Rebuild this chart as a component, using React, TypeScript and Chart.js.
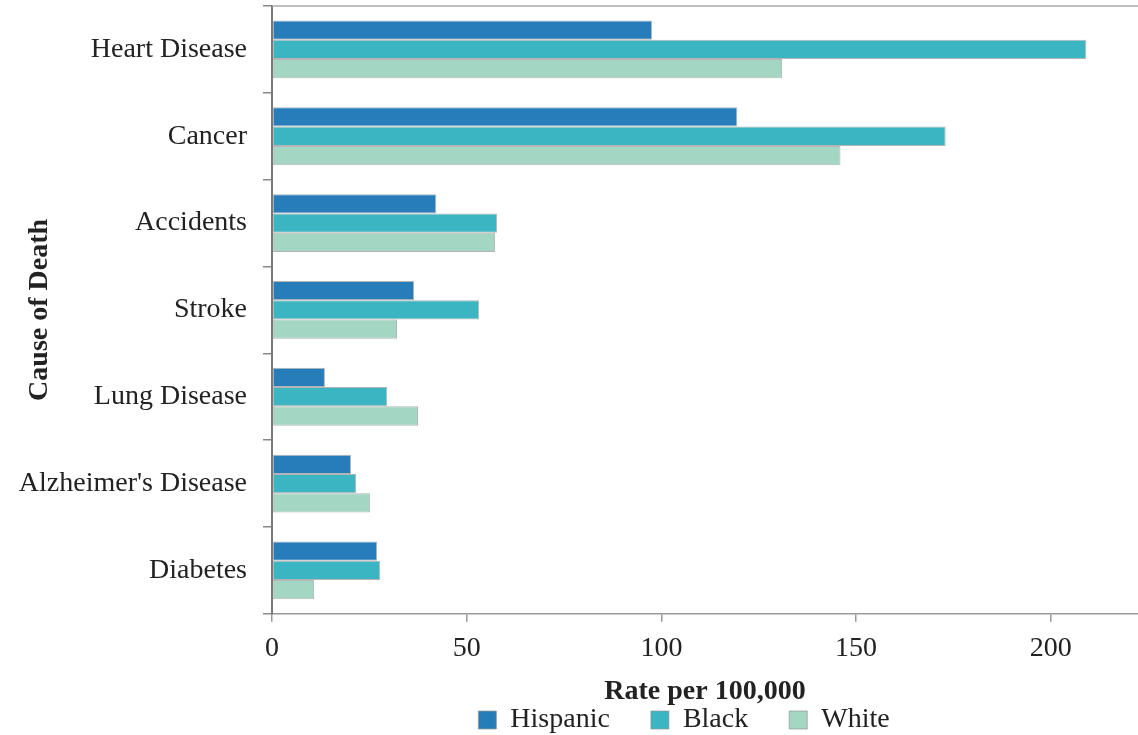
import React, { useEffect, useRef } from "react";
import { Chart, registerables } from "chart.js";

Chart.register(...registerables);

const categories = [
  "Heart Disease",
  "Cancer",
  "Accidents",
  "Stroke",
  "Lung Disease",
  "Alzheimer's Disease",
  "Diabetes",
];
const seriesNames = ["Hispanic", "Black", "White"];
const hispanic = [97.6, 119.5, 42.2, 36.5, 13.6, 20.3, 27.0];
const black = [209.1, 173.0, 57.8, 53.2, 29.6, 21.6, 27.8];
const white = [131.0, 146.0, 57.3, 32.1, 37.5, 25.2, 10.8];
const xMin = 0;
const xMax = 222.4;
const xStep = 50;

const SERIF = "'Liberation Serif', 'Times New Roman', serif";
const colors = ["#277db9", "#3cb5c2", "#a3d6c3"];

const topBorderPlugin = {
  id: "topBorder",
  afterDraw(chart: any) {
    const { ctx, chartArea } = chart;
    ctx.save();
    ctx.strokeStyle = "#a8a8a8";
    ctx.lineWidth = 1.5;
    ctx.beginPath();
    ctx.moveTo(chartArea.left, chartArea.top);
    ctx.lineTo(chartArea.right, chartArea.top);
    ctx.stroke();
    ctx.restore();
  },
};

const legendShiftPlugin = {
  id: "legendShift",
  afterLayout(chart: any) {
    const lg = chart.legend;
    if (!lg) return;
    const area = chart.chartArea;
    const center = (area.left + area.right) / 2 - 21;
    const half = (lg.right - lg.left) / 2;
    lg.left = center - half;
    lg.right = center + half;
    const pad = lg.options.labels.padding;
    const fs = lg.options.labels.font.size;
    lg.top = chart.height - 15 - fs / 2 - pad;
    lg.bottom = chart.height;
  },
};

export default function App() {
  const ref = useRef<HTMLCanvasElement | null>(null);

  useEffect(() => {
    if (!ref.current) return;
    const data = [hispanic, black, white];
    const chart = new Chart(ref.current, {
      type: "bar",
      data: {
        labels: categories,
        datasets: seriesNames.map((name, i) => ({
          label: name,
          data: data[i],
          backgroundColor: colors[i],
          borderColor: "rgba(150,150,150,0.7)",
          borderWidth: 1,
          borderSkipped: false,
          categoryPercentage: 0.666,
          barPercentage: 1.0,
        })),
      },
      plugins: [topBorderPlugin, legendShiftPlugin],
      options: {
        indexAxis: "y",
        responsive: false,
        animation: false,
        devicePixelRatio: 1,
        layout: { padding: { top: 6, right: 0, left: 0, bottom: 0 } },
        plugins: {
          tooltip: { enabled: false },
          legend: {
            display: true,
            position: "bottom",
            maxHeight: 26,
            labels: {
              boxWidth: 18,
              boxHeight: 18,
              padding: 41,
              color: "#222",
              font: { family: SERIF, size: 28 },
            },
          },
        },
        scales: {
          x: {
            type: "linear",
            min: xMin,
            max: xMax,
            ticks: {
              stepSize: xStep,
              includeBounds: false,
              color: "#222",
              padding: 10,
              font: { family: SERIF, size: 28 },
            },
            grid: {
              display: true,
              drawOnChartArea: false,
              drawTicks: true,
              tickLength: 8,
              color: "#999",
              lineWidth: 1.5,
            },
            border: { display: true, color: "#999", width: 1.5 },
            title: {
              display: true,
              text: "Rate per 100,000",
              color: "#222",
              font: { family: SERIF, size: 28, weight: "bold" },
              padding: { top: 0, bottom: 0 },
            },
          },
          y: {
            type: "category",
            ticks: {
              color: "#222",
              padding: 16,
              font: { family: SERIF, size: 28 },
            },
            grid: {
              display: true,
              drawOnChartArea: false,
              offset: true,
              drawTicks: true,
              tickLength: 9,
              color: "#888",
              lineWidth: 1.5,
            },
            border: { display: true, color: "#7a7a7a", width: 2 },
            title: {
              display: true,
              text: "Cause of Death",
              color: "#222",
              font: { family: SERIF, size: 28, weight: "bold" },
              padding: { top: 23, bottom: 0 },
            },
            afterFit(scale: any) {
              scale.width = 272;
              scale.paddingTop = 0;
              scale.paddingBottom = 0;
            },
          },
        },
      },
    });
    return () => chart.destroy();
  }, []);

  return (
    <div style={{ position: "absolute", left: 0, top: 0, width: 1138, height: 735, background: "#fff" }}>
      <canvas ref={ref} width={1138} height={735} style={{ display: "block" }} />
    </div>
  );
}
